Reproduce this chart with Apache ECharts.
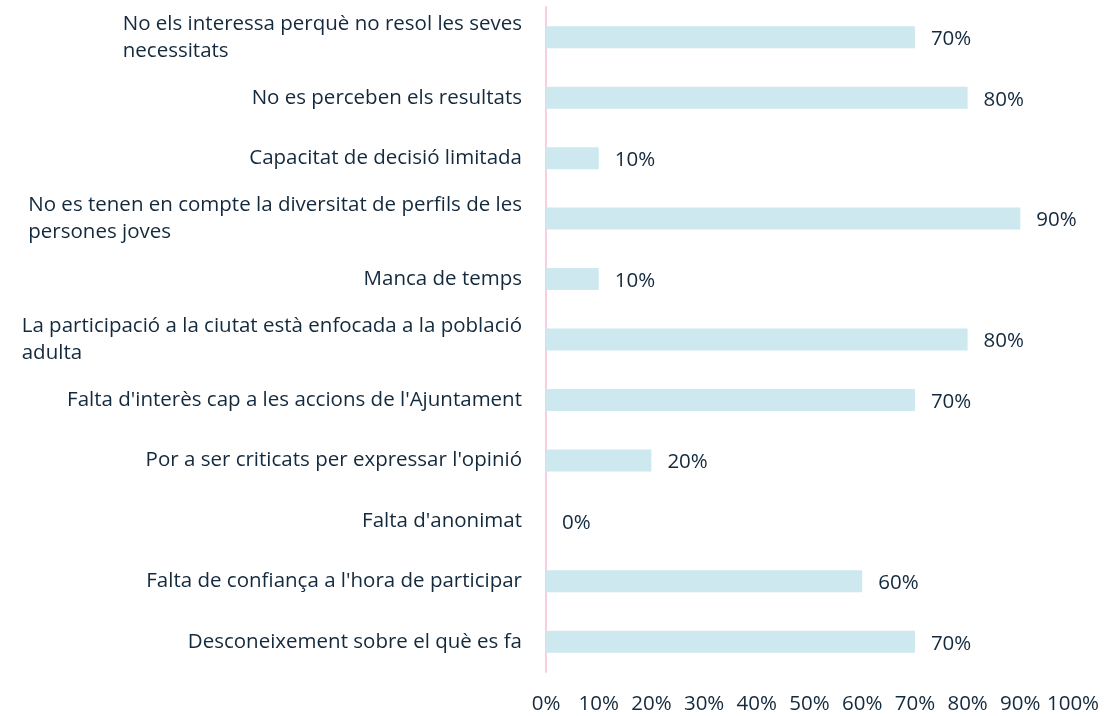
<!DOCTYPE html>
<html>
<head>
<meta charset="utf-8">
<script src="https://cdn.jsdelivr.net/npm/echarts@6/dist/echarts.min.js"></script>
<style>
  html, body { margin: 0; padding: 0; background: #fff; }
  #chart { width: 1105px; height: 716px; }
</style>
</head>
<body>
<div id="chart"></div>
<script>
// categories, top to bottom
const categories = [
  "No els interessa perquè no resol les seves\nnecessitats",
  "No es perceben els resultats",
  "Capacitat de decisió limitada",
  "No es tenen en compte la diversitat de perfils de les\npersones joves",
  "Manca de temps",
  "La participació a la ciutat està enfocada a la població\nadulta",
  "Falta d'interès cap a les accions de l'Ajuntament",
  "Por a ser criticats per expressar l'opinió",
  "Falta d'anonimat",
  "Falta de confiança a l'hora de participar",
  "Desconeixement sobre el què es fa"
];
const values = [70, 80, 10, 90, 10, 80, 70, 20, 0, 60, 70];

const textColor = '#13293d';
const font = "'Open Sans', sans-serif";
const fs = 20.5;

const chart = echarts.init(document.getElementById('chart'));
chart.setOption({
  animation: false,
  textStyle: { fontFamily: font },
  grid: { left: 546, right: 32, top: 7, bottom: 44 },
  xAxis: {
    type: 'value',
    min: 0,
    max: 100,
    interval: 10,
    axisLine: { show: false },
    axisTick: { show: false },
    splitLine: { show: false },
    axisLabel: {
      formatter: '{value}%',
      color: textColor,
      fontSize: fs,
      fontFamily: font,
      margin: 22
    }
  },
  yAxis: {
    type: 'category',
    inverse: true,
    data: categories,
    axisLine: { show: true, lineStyle: { color: '#f9cde1', width: 2 } },
    axisTick: { show: false },
    axisLabel: {
      margin: 24,
      formatter: v => '{a|' + v.split('\n').join('}\n{a|') + '}',
      rich: {
        a: { align: 'left', color: textColor, fontSize: fs, fontFamily: font, lineHeight: 27 }
      }
    }
  },
  series: [{
    type: 'bar',
    data: values,
    barWidth: 22,
    itemStyle: { color: '#cde8ee' },
    label: {
      show: true,
      position: 'right',
      distance: 16,
      offset: [0, 2],
      formatter: '{c}%',
      color: textColor,
      fontSize: fs,
      fontFamily: font
    }
  }]
});
</script>
</body>
</html>
